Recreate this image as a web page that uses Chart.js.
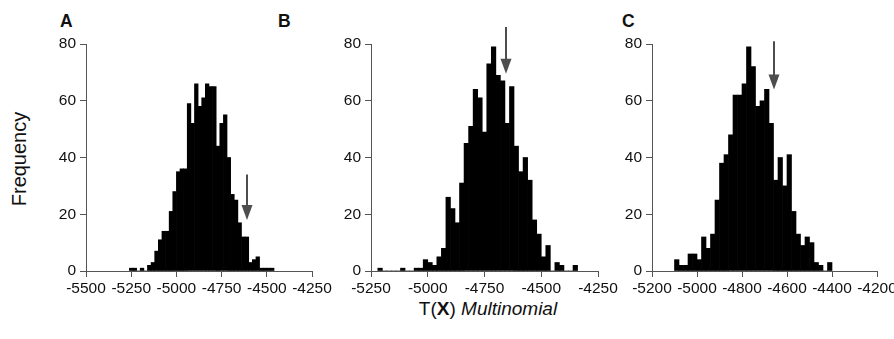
<!DOCTYPE html>
<html lang="en">
<head>
<meta charset="utf-8">
<title>T(X) Multinomial</title>
<script src="https://cdn.jsdelivr.net/npm/chart.js@4.4.1/dist/chart.umd.min.js"></script>
<style>
  html, body { margin: 0; padding: 0; background: #fff; overflow: hidden; }
  body { width: 894px; height: 339px; position: relative; font-family: "Liberation Sans", Arial, Helvetica, sans-serif; color: #111; }
  .panel { position: absolute; top: 0; height: 301px; }
  .letter { position: absolute; top: 12px; font-size: 17.5px; font-weight: bold; line-height: 18px; }
  #ylabel { position: absolute; left: 19px; top: 159px; font-size: 20px; line-height: 20px; white-space: nowrap;
            transform: translate(-50%, -50%) rotate(-90deg); }
  #xlabel { position: absolute; left: 488px; top: 308px; font-size: 19px; line-height: 19px; white-space: nowrap;
            transform: translate(-50%, -50%); }
</style>
</head>
<body>
<div class="letter" style="left:60px">A</div>
<div class="letter" style="left:278px">B</div>
<div class="letter" style="left:622px">C</div>
<div id="ylabel">Frequency</div>
<div id="xlabel">T(<b>X</b>) <i>Multinomial</i></div>

<div class="panel" style="left:36px; width:301px"><canvas id="chart-a"></canvas></div>
<div class="panel" style="left:321px; width:302px"><canvas id="chart-b"></canvas></div>
<div class="panel" style="left:602px; width:300px"><canvas id="chart-c"></canvas></div>

<script>
// Histogram bin width (same in all panels)
const binWidth = 20;

// Panel A: left edges of the bins and counts
const edgesA = [-5260, -5240, -5220, -5200, -5180, -5160, -5140, -5120, -5100, -5080, -5060, -5040, -5020, -5000, -4980, -4960, -4940, -4920, -4900, -4880, -4860, -4840, -4820, -4800, -4780, -4760, -4740, -4720, -4700, -4680, -4660, -4640, -4620, -4600, -4580, -4560, -4540, -4520, -4500, -4480];
const countsA = [1, 1, 0, 1, 0, 2, 3, 7, 11, 14, 14, 21, 28, 35, 36, 36, 59, 52, 66, 58, 61, 66, 65, 65, 44, 52, 55, 40, 27, 25, 17, 12, 12, 3, 4, 5, 1, 1, 1, 1];
const xTicksA = [-5500, -5250, -5000, -4750, -4500, -4250];

// Panel B
const edgesB = [-5220, -5200, -5180, -5160, -5140, -5120, -5100, -5080, -5060, -5040, -5020, -5000, -4980, -4960, -4940, -4920, -4900, -4880, -4860, -4840, -4820, -4800, -4780, -4760, -4740, -4720, -4700, -4680, -4660, -4640, -4620, -4600, -4580, -4560, -4540, -4520, -4500, -4480, -4460, -4440, -4420, -4400, -4380, -4360];
const countsB = [1, 0, 0, 0, 0, 1, 0, 0, 1, 1, 4, 3, 2, 5, 8, 26, 22, 17, 31, 45, 51, 64, 61, 49, 73, 79, 69, 67, 52, 65, 44, 35, 40, 32, 18, 13, 5, 9, 0, 3, 2, 0, 0, 2];
const xTicksB = [-5250, -5000, -4750, -4500, -4250];

// Panel C
const edgesC = [-5100, -5080, -5060, -5040, -5020, -5000, -4980, -4960, -4940, -4920, -4900, -4880, -4860, -4840, -4820, -4800, -4780, -4760, -4740, -4720, -4700, -4680, -4660, -4640, -4620, -4600, -4580, -4560, -4540, -4520, -4500, -4480, -4460, -4440, -4420];
const countsC = [4, 2, 2, 6, 6, 4, 12, 8, 13, 25, 38, 41, 48, 62, 62, 66, 79, 72, 58, 60, 64, 52, 32, 40, 30, 41, 21, 13, 9, 12, 10, 3, 2, 0, 3];
const xTicksC = [-5200, -5000, -4800, -4600, -4400, -4200];

// Shared y ticks
const yTicks = [0, 20, 40, 60, 80];

// Observed values marked by arrows (A, B, C): position, arrow top and tip in frequency units
const arrowAt = [-4607, -4654, -4660];
const arrowFrom = [34, 86, 81];
const arrowTo = [18, 69.5, 64];

const FONT = '"Liberation Sans", Arial, Helvetica, sans-serif';
const AXIS_COLOR = '#555';

/**
 * Draws the downward arrow for the observed statistic
 */
const arrowPlugin = {
    id: 'obsArrow',
    afterDatasetsDraw(chart, args, opts) {
        const { ctx, scales: { x, y } } = chart;
        const px = Math.round(x.getPixelForValue(opts.at));
        const top = y.getPixelForValue(opts.from);
        const tip = y.getPixelForValue(opts.to);
        ctx.save();
        ctx.strokeStyle = '#4d4d4d';
        ctx.fillStyle = '#4d4d4d';
        ctx.lineWidth = 2;
        ctx.beginPath();
        ctx.moveTo(px, top);
        ctx.lineTo(px, tip - 14);
        ctx.stroke();
        ctx.beginPath();
        ctx.moveTo(px - 5.5, tip - 15);
        ctx.lineTo(px + 5.5, tip - 15);
        ctx.lineTo(px, tip);
        ctx.closePath();
        ctx.fill();
        ctx.restore();
    }
};

/**
 * Builds one histogram panel
 */
function makeHistogram(canvasId, edges, counts, xTicks, idx) {
    const points = edges.map((e, i) => ({ x: e + binWidth / 2, y: counts[i] }));
    return new Chart(document.getElementById(canvasId), {
        type: 'bar',
        data: {
            datasets: [{
                data: points,
                backgroundColor: '#000',
                borderWidth: 0,
                barPercentage: 1,
                categoryPercentage: 1,
                grouped: false
            }]
        },
        plugins: [arrowPlugin],
        options: {
            responsive: true,
            maintainAspectRatio: false,
            animation: false,
            events: [],
            layout: { padding: { top: 44, right: 25, bottom: 0, left: 0 } },
            plugins: {
                legend: { display: false },
                tooltip: { enabled: false },
                obsArrow: { at: arrowAt[idx], from: arrowFrom[idx], to: arrowTo[idx] }
            },
            scales: {
                x: {
                    type: 'linear',
                    min: xTicks[0],
                    max: xTicks[xTicks.length - 1],
                    offset: false,
                    afterBuildTicks: s => { s.ticks = xTicks.map(v => ({ value: v })); },
                    afterFit: s => { s.height = 30; s.paddingLeft = 0; s.paddingRight = 0; },
                    ticks: {
                        autoSkip: false,
                        maxRotation: 0,
                        padding: 2,
                        color: '#111',
                        font: { family: FONT, size: 15.5 },
                        callback: v => String(v)
                    },
                    grid: { drawOnChartArea: false, drawTicks: true, tickLength: 6, color: AXIS_COLOR, offset: false },
                    border: { display: true, color: AXIS_COLOR, width: 1 }
                },
                y: {
                    min: 0,
                    max: 80,
                    afterBuildTicks: s => { s.ticks = yTicks.map(v => ({ value: v })); },
                    afterFit: s => { s.width = 50; s.paddingTop = 0; s.paddingBottom = 0; },
                    ticks: {
                        padding: 4,
                        color: '#111',
                        font: { family: FONT, size: 15.5 },
                        callback: v => String(v)
                    },
                    grid: { drawOnChartArea: false, drawTicks: true, tickLength: 6, color: AXIS_COLOR },
                    border: { display: true, color: AXIS_COLOR, width: 1 }
                }
            }
        }
    });
}

makeHistogram('chart-a', edgesA, countsA, xTicksA, 0);
makeHistogram('chart-b', edgesB, countsB, xTicksB, 1);
makeHistogram('chart-c', edgesC, countsC, xTicksC, 2);
</script>
</body>
</html>
